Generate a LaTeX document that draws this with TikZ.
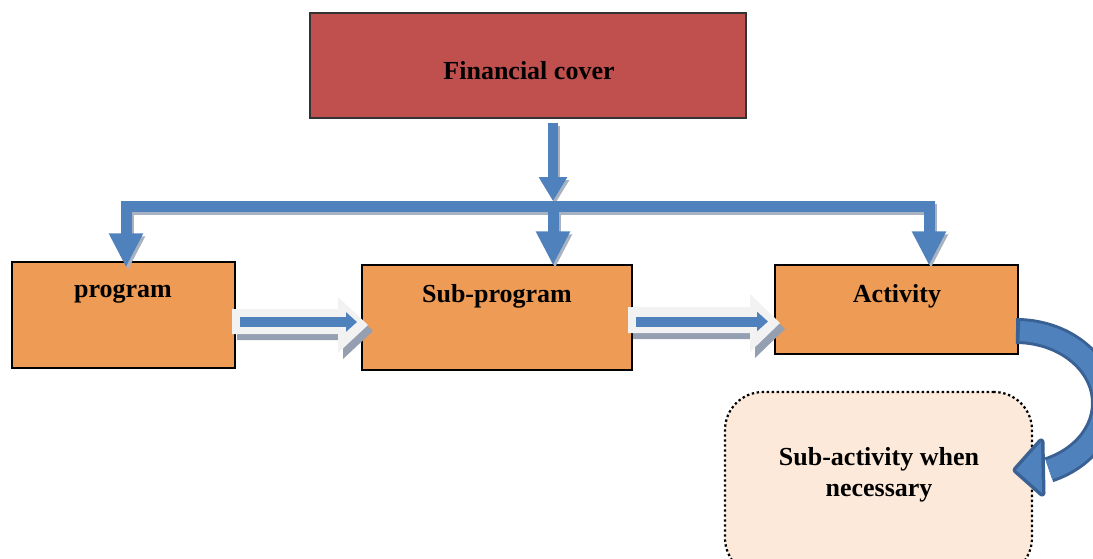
\documentclass[tikz,border=0pt]{standalone}
\usepackage{fontspec}
\setmainfont{Liberation Serif}
\usetikzlibrary{arrows.meta,calc}
\definecolor{fcred}{HTML}{C0504D}
\definecolor{boxor}{HTML}{EE9B55}
\definecolor{peach}{HTML}{FDE9D9}
\definecolor{ablue}{HTML}{4F81BD}
\definecolor{dblue}{HTML}{3A6194}
\definecolor{arrowfill}{HTML}{F2F2F2}
\definecolor{shadowc}{HTML}{949FB2}
\newcommand{\myTconn}[3]{%
  \draw[#1, line width=11pt, line cap=rect] ([shift={(#2,#3)}]jl) -- ([shift={(#2,#3)}]jr);
  \draw[#1, line width=10pt, -{Triangle[width=27pt,length=24pt]}] ([shift={(#2,#3)}]jtop) -- ([shift={(#2,#3)}]jtip);
  \draw[#1, line width=11pt, -{Triangle[width=32pt,length=34pt]}] ([shift={(#2,#3)}]jl) -- ([shift={(#2,#3)}]ltip);
  \draw[#1, line width=11pt, -{Triangle[width=32pt,length=34pt]}] ([shift={(#2,#3)}]j) -- ([shift={(#2,#3)}]mtip);
  \draw[#1, line width=11pt, -{Triangle[width=32pt,length=34pt]}] ([shift={(#2,#3)}]jr) -- ([shift={(#2,#3)}]rtip);
}
\begin{document}
\begin{tikzpicture}[x=1pt,y=-1pt,
  txt/.style={font=\fontsize{26}{31}\selectfont\bfseries, inner sep=0pt},
  orbox/.style={draw=black, line width=1.4pt, fill=boxor, inner sep=0pt},
  blockarrow/.style={fill=arrowfill},
  blockshadow/.style={fill=shadowc},
  innerarrow/.style={ablue, line width=10pt, -{Triangle[width=19pt,length=11pt]}}
]
\useasboundingbox (0,0) rectangle (1093,558);

% boxes
\node[draw=black!80, line width=1.4pt, fill=fcred, minimum width=436pt, minimum height=105pt, inner sep=0pt] (fc) at (528,65.5) {};
\node[txt, anchor=base] (fct) at (529,79) {Financial cover};

\node[orbox, minimum width=223pt, minimum height=106pt] (prog) at (123.5,315) {};
\node[txt, anchor=base] (progt) at (123,297) {program};

\node[orbox, minimum width=270pt, minimum height=105pt] (sub) at (497,317.5) {};
\node[txt, anchor=base] (subt) at (497,302) {Sub-program};

\node[orbox, minimum width=243pt, minimum height=89pt] (act) at (896.5,309.5) {};
\node[txt, anchor=base] (actt) at (897,302) {Activity};

\node[draw=black, line width=2.2pt, dash pattern=on 2.4pt off 2.6pt, fill=peach, rounded corners=38pt,
      minimum width=307pt, minimum height=184pt, inner sep=0pt] (sa) at (878.5,484) {};
\node[txt, align=center] (sat) at (879,475) {Sub-activity when\\necessary};

% T connector
\coordinate (j) at (553,206);
\coordinate (jl) at (126,206);
\coordinate (jr) at (929,206);
\coordinate (jtop) at ($(j |- fc.south)+(0,4)$);
\coordinate (jtip) at (553,201);
\coordinate (ltip) at ($(jl |- prog.north)+(0,6)$);
\coordinate (mtip) at ($(j |- sub.north)+(0,1)$);
\coordinate (rtip) at ($(jr |- act.north)+(0,1)$);
\myTconn{shadowc!80}{2}{3}
\myTconn{ablue}{0}{0}

% block arrow 1
\coordinate (a1s) at (240,322);
\coordinate (a1e) at (357,322);
\fill[blockshadow] (237,315) -- (343,315) -- (343,303) -- (373,331) -- (343,359) -- (343,340) -- (237,340) -- cycle;
\fill[blockarrow] (232,309) -- (338,309) -- (338,297) -- (368,325) -- (338,353) -- (338,334) -- (232,334) -- cycle;
\draw[innerarrow] (a1s) -- (a1e);

% block arrow 2
\coordinate (a2s) at (636,321.5);
\coordinate (a2e) at (768,321.5);
\fill[blockshadow] (633,313) -- (755,313) -- (755,300) -- (785,329) -- (755,358) -- (755,339) -- (633,339) -- cycle;
\fill[blockarrow] (628,307) -- (750,307) -- (750,294) -- (780,323) -- (750,352) -- (750,333) -- (628,333) -- cycle;
\draw[innerarrow] (a2s) -- (a2e);

% curved arrow (from Activity to Sub-activity)
\coordinate (cc) at ($(act.east)+(-2,93.5)$);
\coordinate (ctip) at ($(sa.east)+(-17,-14)$);
\draw[dblue, line width=26pt] plot[domain=-90:68, samples=80] ({1016+88*cos(\x)},{403+72*sin(\x)});
\filldraw[dblue, line width=7pt, line join=round] (ctip) -- (1041,442) -- (1042,493) -- cycle;
\draw[ablue, line width=20pt] plot[domain=-87.5:68, samples=80] ({1016+88*cos(\x)},{403+72*sin(\x)});
\fill[ablue] (ctip) -- (1041,442) -- (1042,493) -- cycle;
\end{tikzpicture}
\end{document}
